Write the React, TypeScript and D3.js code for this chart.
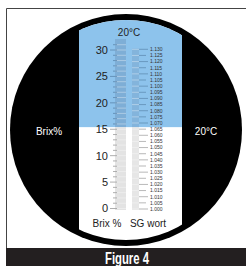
import React from "react";
import * as d3 from "d3";

const brixLabels = [0, 5, 10, 15, 20, 25, 30];
const brixMinorTicks = [0,1,2,3,4,5,6,7,8,9,10,11,12,13,14,15,16,17,18,19,20,21,22,23,24,25,26,27,28,29,30,31];
const sgValues = [1.000,1.005,1.010,1.015,1.020,1.025,1.030,1.035,1.040,1.045,1.050,1.055,1.060,1.065,1.070,1.075,1.080,1.085,1.090,1.095,1.100,1.105,1.110,1.115,1.120,1.125,1.130];
const boundaryBrix = 15.4;

const W = 246, H = 266;
const font = "'Liberation Sans', Arial, sans-serif";

export default function App() {
  const brixY = d3.scaleLinear().domain([0, 30]).range([208.5, 50]);
  const sgY = d3.scaleLinear().domain([1.0, 1.13]).range([209, 49.3]);
  const cx = 126, cy = 130, rOuter = 116, rInner = 110;
  const winX0 = 79, winX1 = 182;
  const yBoundary = brixY(boundaryBrix);
  const brixBar = { x: 115, w: 11, top: 39, bottom: 210 };
  const sgBar = { x: 132, w: 7, top: 48.5, bottom: 210 };

  return (
    <svg width={W} height={H} style={{ position: "absolute", left: 0, top: 0, background: "#fff" }}>
      <defs>
        <clipPath id="win">
          <circle cx={cx} cy={cy} r={rInner} />
        </clipPath>
        <clipPath id="upper">
          <rect x={0} y={0} width={W} height={yBoundary} />
        </clipPath>
        <clipPath id="lower">
          <rect x={0} y={yBoundary} width={W} height={H} />
        </clipPath>
      </defs>
      <rect x={0} y={0} width={W} height={H} fill="#fff" />
      {/* frame */}
      <line x1={6.5} y1={8.5} x2={W} y2={8.5} stroke="#444" strokeWidth={1} />
      <line x1={6.5} y1={8.5} x2={6.5} y2={248} stroke="#444" strokeWidth={1} />
      {/* black disc */}
      <circle cx={cx} cy={cy} r={rOuter} fill="#000" />
      {/* window */}
      <g clipPath="url(#win)">
        <rect x={winX0} y={0} width={winX1 - winX0} height={H} fill="#fff" />
        <rect x={winX0} y={0} width={winX1 - winX0} height={yBoundary} fill="#8dc3ec" />
      </g>
      {/* bars upper */}
      <g clipPath="url(#upper)">
        <rect x={brixBar.x} y={brixBar.top} width={brixBar.w} height={brixBar.bottom - brixBar.top} fill="#7eaed6" />
        <rect x={sgBar.x} y={sgBar.top} width={sgBar.w} height={sgBar.bottom - sgBar.top} fill="#83b4dc" />
      </g>
      <g clipPath="url(#lower)">
        <rect x={brixBar.x} y={brixBar.top} width={brixBar.w} height={brixBar.bottom - brixBar.top} fill="#e3e3e3" />
        <rect x={sgBar.x} y={sgBar.top} width={sgBar.w} height={sgBar.bottom - sgBar.top} fill="#e6e6e6" />
      </g>
      {/* stripes in bars */}
      {brixMinorTicks.map((v) => (
        <line key={"bs" + v} x1={brixBar.x} x2={brixBar.x + brixBar.w} y1={brixY(v)} y2={brixY(v)} stroke="#fff" strokeOpacity={0.35} strokeWidth={1} />
      ))}
      {sgValues.map((v) => (
        <line key={"ss" + v} x1={sgBar.x} x2={sgBar.x + sgBar.w} y1={sgY(v)} y2={sgY(v)} stroke="#fff" strokeOpacity={0.35} strokeWidth={1} />
      ))}
      {/* brix ticks */}
      {brixMinorTicks.map((v) => (
        <line key={"bt" + v} x1={brixLabels.includes(v) ? 110 : 113} x2={117} y1={brixY(v)} y2={brixY(v)} stroke={brixY(v) < yBoundary ? "#5a86ad" : "#9a9a9a"} strokeWidth={0.8} />
      ))}
      {brixLabels.map((v) => (
        <text key={"bl" + v} x={108} y={brixY(v)} dy="0.36em" textAnchor="end" fontFamily={font} fontSize={11} fill="#222">{v}</text>
      ))}
      {/* sg ticks */}
      {sgValues.map((v, i) => (
        <line key={"st" + v} x1={139} x2={i % 2 === 0 ? 148 : 146} y1={sgY(v)} y2={sgY(v)} stroke={sgY(v) < yBoundary ? "#5a86ad" : "#9a9a9a"} strokeWidth={0.7} />
      ))}
      {sgValues.map((v) => (
        <text key={"sl" + v} x={150} y={sgY(v)} dy="0.36em" fontFamily={font} fontSize={5} fill="#333">{v.toFixed(3)}</text>
      ))}
      {/* window titles */}
      <text x={129} y={32} dy="0.36em" textAnchor="middle" fontFamily={font} fontSize={10} fill="#222">20°C</text>
      <text x={107} y={223} dy="0.36em" textAnchor="middle" fontFamily={font} fontSize={10} fill="#222">Brix %</text>
      <text x={148} y={223} dy="0.36em" textAnchor="middle" fontFamily={font} fontSize={10} fill="#222">SG wort</text>
      {/* side labels */}
      <text x={49} y={131} dy="0.36em" textAnchor="middle" fontFamily={font} fontSize={10} fill="#fff">Brix%</text>
      <text x={206} y={131} dy="0.36em" textAnchor="middle" fontFamily={font} fontSize={10} fill="#fff">20°C</text>
      {/* figure caption bar */}
      <rect x={6} y={248} width={W - 6} height={H - 248} fill="#231f20" />
      <text x={127} y={264} textAnchor="middle" fontFamily={font} fontWeight="bold" fontSize={16} fill="#fff" textLength={44} lengthAdjust="spacingAndGlyphs">Figure 4</text>
    </svg>
  );
}
